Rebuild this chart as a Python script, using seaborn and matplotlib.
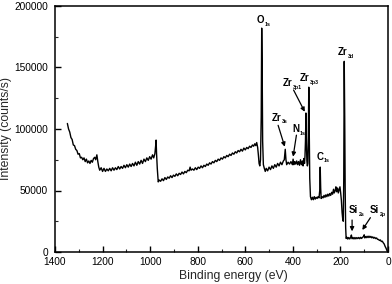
import matplotlib
matplotlib.use("Agg")
import matplotlib.pyplot as plt
import seaborn as sns
import pandas as pd
from matplotlib.ticker import MultipleLocator

# ---- data (binding energy eV, intensity in 1000 counts/s) ----
energy = [1348, 1343, 1338, 1333, 1328, 1323, 1318, 1313, 1308, 1303,
          1298, 1293, 1288, 1283, 1278, 1273, 1268, 1263, 1258, 1253,
          1248, 1243, 1238, 1233, 1229, 1224, 1220, 1216, 1212, 1206,
          1200, 1194, 1188, 1182, 1176, 1170, 1164, 1158, 1152, 1146,
          1140, 1134, 1128, 1122, 1116, 1110, 1104, 1098, 1092, 1086,
          1080, 1074, 1068, 1062, 1056, 1050, 1044, 1038, 1032, 1026,
          1020, 1014, 1008, 1002, 996, 990, 985, 980, 977, 975,
          973, 970, 966, 962, 956, 950, 944, 938, 932, 926,
          920, 914, 908, 902, 896, 890, 884, 878, 872, 866,
          860, 854, 848, 842, 836, 832, 828, 822, 816, 810,
          804, 798, 792, 786, 780, 774, 768, 762, 756, 750,
          744, 738, 732, 726, 720, 714, 708, 702, 696, 690,
          684, 678, 672, 666, 660, 654, 648, 642, 636, 630,
          624, 618, 612, 606, 600, 594, 588, 582, 576, 570,
          565, 560, 556, 552, 548, 545, 542, 539, 536, 533,
          531, 529, 527, 524, 520, 516, 512, 506, 500, 494,
          488, 482, 476, 470, 464, 458, 452, 446, 440, 436,
          432, 429, 426, 420, 414, 408, 402, 399, 396, 392,
          388, 384, 380, 376, 372, 368, 364, 360, 357, 354,
          351, 349, 347, 345, 343, 341, 339, 337, 335, 333,
          331, 329, 326, 322, 318, 314, 310, 306, 302, 298,
          294, 290, 287, 285, 283, 281, 277, 273, 269, 265,
          261, 257, 253, 249, 245, 241, 237, 233, 229, 226,
          222, 219, 216, 212, 209, 205, 202, 199, 196, 193,
          190, 188, 186, 184, 182, 180, 178, 176, 173, 169,
          165, 161, 157, 154, 151, 147, 143, 139, 135, 131,
          127, 123, 119, 115, 111, 107, 103, 100, 98, 95,
          92, 88, 84, 80, 76, 72, 68, 64, 60, 56,
          52, 48, 44, 40, 36, 32, 28, 24, 20, 16,
          12, 8, 5, 3]
counts_k = [104.5, 100, 97.5, 93, 91.5, 87, 86.5, 83.5, 82.5, 79.5,
            80, 76.5, 77, 75, 76.5, 73.5, 75.5, 72.5, 74, 72,
            74.5, 73, 76, 77, 75, 79, 73.5, 69, 66.5, 68.5,
            65.5, 68, 65.5, 67.5, 66, 68, 66, 68.5, 66.5, 68.5,
            67, 69.5, 67.5, 69.5, 68, 70.5, 68.5, 71, 69, 71.5,
            69.5, 72, 70, 73, 70.5, 73.5, 71.5, 74.5, 72, 75.5,
            73.5, 76.5, 74.5, 77.5, 75.5, 79, 76.5, 80, 86, 91,
            80, 68, 57, 58.5, 57.5, 59.5, 58, 60.5, 59, 61,
            60, 62, 60.5, 62.5, 61.5, 63.5, 62, 64, 63, 65,
            63.5, 65.5, 64.5, 66.5, 66, 69, 66.5, 67.5, 66.5, 68.5,
            67, 69, 68, 70, 68.5, 70.5, 69.5, 71.5, 70.5, 72.5,
            71.5, 73.5, 72.5, 74.5, 73.5, 75.5, 74.5, 76.5, 75.5, 77.5,
            76.5, 78.5, 77.5, 79.5, 78.5, 80.5, 79.5, 81.5, 80.5, 82.5,
            81.5, 83.5, 82, 84.5, 83, 85, 84, 86, 85, 87,
            86, 88, 86.5, 89, 85, 79, 72, 70, 75, 110,
            182, 150, 90, 71, 68, 65.5, 68, 66, 69, 67,
            70, 68, 71, 69, 72, 70, 73, 71, 74, 75,
            83.5, 75, 71, 73, 71.5, 73.5, 71, 75.5, 71, 73.5,
            71.5, 74, 71, 73.5, 70.5, 75, 71, 74, 70, 76,
            72, 78, 90, 113, 88, 74, 70, 72, 95, 134,
            100, 60, 45, 42.5, 44.5, 42.5, 45, 43, 44.5, 43.5,
            45, 44, 50, 69, 52, 43.5, 45, 44, 46, 44.5,
            46.5, 45, 47, 45.5, 47.5, 46, 48.5, 47, 51, 48,
            50, 53, 49, 52, 48, 51, 53, 48, 42, 32,
            26, 25, 60, 155, 110, 50, 20, 11, 12, 10.5,
            11.8, 10.6, 11.8, 13.8, 10.8, 11.8, 10.6, 11.8, 10.7, 11.7,
            10.9, 11.8, 10.8, 11.9, 11, 12, 12.5, 14, 11.5, 12.6,
            11.6, 12.8, 11.7, 12.9, 11.8, 12.7, 11.5, 12.3, 11.2, 11.9,
            10.9, 11.4, 10.3, 10.2, 9.4, 9.8, 8.5, 8.8, 7.5, 6.5,
            4.5, 3, 1.5, 0.5]

x_ticks = [1400, 1200, 1000, 800, 600, 400, 200, 0]
y_ticks = [0, 50000, 100000, 150000, 200000]

# peak labels: main symbol, subscript, left edge (eV), vertical centre (counts)
label_main = ["O", "Zr", "Zr", "Zr", "Zr", "N", "C", "Si", "Si"]
label_sub = ["1s", "3d", "3p3", "3p1", "3s", "1s", "1s", "2s", "2p"]
label_x = [551, 210, 371, 443, 490, 403, 302, 165, 77]
label_y = [188400, 162600, 141500, 137400, 109300, 100000, 77600, 34100, 34100]
# arrows: start (eV, counts) -> tip (eV, counts)
arrow_from = [(462, 103000), (385, 95000), (397, 131700), (151, 26000), (74, 27900)]
arrow_to = [(434, 85600), (399, 77500), (350, 114000), (151, 16800), (108, 17900)]

df = pd.DataFrame({"energy": energy, "counts": [c * 1000 for c in counts_k]})

sns.set_style("ticks")
plt.rcParams["font.family"] = ["Liberation Sans", "DejaVu Sans"]

fig = plt.figure(figsize=(3.92, 2.84), dpi=100)
ax = fig.add_axes([55 / 392, 32 / 284, 333 / 392, 246 / 284])

sns.lineplot(data=df, x="energy", y="counts", ax=ax, color="black", linewidth=1.0,
             sort=False, estimator=None)

ax.set_xlim(1400, 0)
ax.set_ylim(0, 200000)
ax.set_xticks(x_ticks)
ax.set_xticklabels([str(t) for t in x_ticks])
ax.set_yticks(y_ticks)
ax.set_yticklabels([str(t) for t in y_ticks])
ax.xaxis.set_minor_locator(MultipleLocator(100))
ax.yaxis.set_minor_locator(MultipleLocator(25000))
ax.tick_params(axis="both", which="major", direction="in", length=4, width=1.0,
               labelsize=7.3, colors="black")
ax.tick_params(axis="x", which="major", pad=3.5)
ax.tick_params(axis="y", which="major", pad=5)
ax.tick_params(axis="both", which="minor", direction="in", length=2.5, width=0.8)
for s in ax.spines.values():
    s.set_visible(True)
    s.set_linewidth(1.1)
    s.set_color("black")

ax.set_xlabel("Binding energy (eV)", fontsize=8.8)
ax.set_ylabel("Intensity (counts/s)", fontsize=8.8, labelpad=2)
ax.xaxis.set_label_coords(0.535, -0.075)

for main, sub, lx, ly in zip(label_main, label_sub, label_x, label_y):
    t = ax.text(lx, ly, main, fontsize=7, fontweight="bold",
                ha="left", va="center", color="black")
    ax.annotate(sub, xy=(1, 0.08), xycoords=t, xytext=(0.4, 0),
                textcoords="offset points", fontsize=3.8, fontweight="bold",
                ha="left", va="center", color="black")

for (sx, sy), (tx, ty) in zip(arrow_from, arrow_to):
    ax.annotate("", xy=(tx, ty), xytext=(sx, sy),
                arrowprops=dict(arrowstyle="-|>", color="black", lw=0.9,
                                mutation_scale=6, shrinkA=0, shrinkB=0))

fig.savefig("out.png", dpi=100)
